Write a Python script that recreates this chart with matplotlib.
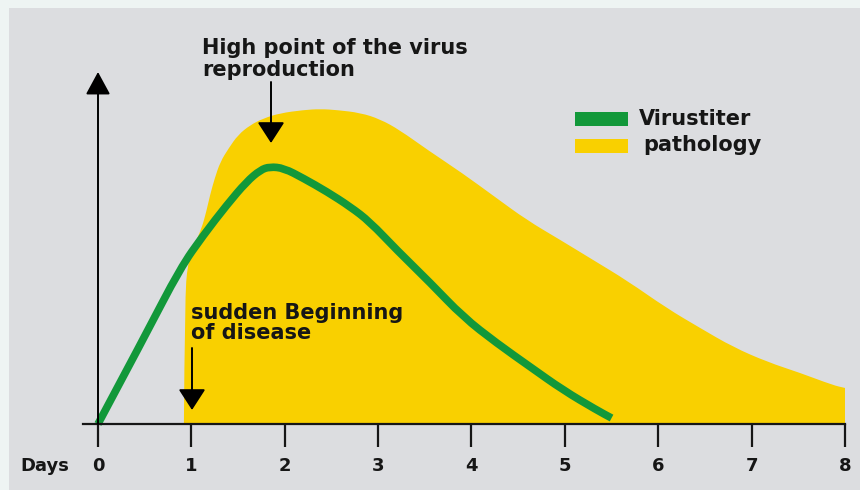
import matplotlib
matplotlib.use("Agg")
import matplotlib.pyplot as plt
from matplotlib.patches import Rectangle, PathPatch
from matplotlib.path import Path

# days on the x axis
days = [0, 1, 2, 3, 4, 5, 6, 7, 8]
day_labels = ["0", "1", "2", "3", "4", "5", "6", "7", "8"]

# virus titer (green line)
virus_x = [0.0, 0.5, 0.88, 1.13, 1.38, 1.59, 1.74, 1.84, 1.99, 2.2, 2.45,
           2.7, 2.91, 3.2, 3.56, 3.91, 4.27, 4.63, 4.98, 5.34, 5.5]
virus_y = [0.0, 25, 44.5, 54, 62.6, 69.2, 72.6, 73.5, 73.1, 70.2, 66.4,
           62.1, 57.8, 49.7, 40.3, 30.6, 23.1, 16.3, 9.7, 4.0, 1.7]

# pathology (yellow area)
path_x = [0.92, 0.93, 0.96, 1.03, 1.11, 1.16, 1.2, 1.25, 1.31, 1.4, 1.5,
          1.63, 1.77, 1.95, 2.2, 2.38, 2.56, 2.81, 3.02, 3.23, 3.53, 3.9,
          4.25, 4.59, 4.95, 5.3, 5.67, 6.09, 6.45, 6.8, 7.17, 7.52, 7.87, 8.0]
path_y = [0.0, 35.4, 46, 51.1, 55.9, 60.7, 65.4, 70.2, 74.9, 78.8, 82.6,
          85.4, 87.3, 88.8, 89.7, 90.0, 89.7, 88.9, 87.1, 84.0, 78.3, 71.7,
          64.9, 58.3, 52.6, 46.9, 40.9, 33.1, 27.4, 22, 17.7, 14.6, 11.1, 10.3]

GREEN = "#12983a"
YELLOW = "#f9d000"
GRAY = "#dcdde0"
INK = "#161616"
FONT = "DejaVu Sans"


def smooth_path(xs, ys, close_to_base=False):
    # quadratic bezier through midpoints: rounds the corners of the polyline
    pts = list(zip(xs, ys))
    verts = [pts[0]]
    codes = [Path.MOVETO]
    for i in range(1, len(pts) - 1):
        mid = ((pts[i][0] + pts[i + 1][0]) / 2, (pts[i][1] + pts[i + 1][1]) / 2)
        verts += [pts[i], mid]
        codes += [Path.CURVE3, Path.CURVE3]
    verts.append(pts[-1])
    codes.append(Path.LINETO)
    if close_to_base:
        verts += [(xs[-1], 0), (xs[0], 0), (xs[0], 0)]
        codes += [Path.LINETO, Path.LINETO, Path.CLOSEPOLY]
    return Path(verts, codes)


W, H = 860, 490
fig = plt.figure(figsize=(W / 100, H / 100), dpi=100)
fig.patch.set_facecolor("#eef4f3")

ax = fig.add_axes([0, 0, 1, 1])
ax.set_facecolor("none")
ax.axis("off")
ax.add_patch(Rectangle((9 / W, 0), 1, 1 - 8 / H, transform=fig.transFigure,
                       facecolor=GRAY, edgecolor="none", zorder=0))

# pixel -> data helpers (x: 0 at px 98, 8 at px 845; baseline at py 424)
sx = (845 - 98) / 8.0
sy = 3.5
def X(px):
    return (px - 98) / sx
def Y(py):
    return (424 - py) / sy

ax.set_xlim(X(0), X(W))
ax.set_ylim(Y(H), Y(0))

ax.add_patch(PathPatch(smooth_path(path_x, path_y, close_to_base=True),
                       facecolor=YELLOW, edgecolor="none", zorder=1))
ax.add_patch(PathPatch(smooth_path(virus_x, virus_y), facecolor="none",
                       edgecolor=GREEN, lw=5.5, capstyle="butt",
                       joinstyle="round", zorder=3))

# axes lines
ax.plot([X(83), 8], [0, 0], color=INK, lw=1.6, zorder=4)
ax.vlines(days, Y(447), 0, color=INK, lw=1.6, zorder=4)
ax.annotate("", xy=(0, Y(72)), xytext=(0, 0),
            arrowprops=dict(arrowstyle="-|>,head_length=0.7,head_width=0.38",
                            mutation_scale=20, lw=1.4, color="black",
                            shrinkA=0, shrinkB=0), zorder=5)

for d, lab in zip(days, day_labels):
    ax.text(d, Y(466), lab, ha="center", va="center", fontsize=13,
            fontweight="bold", family=FONT, color=INK)
ax.text(X(20), Y(466), "Days", ha="left", va="center", fontsize=13,
        fontweight="bold", family=FONT, color=INK)

# annotations
ax.text(X(202), Y(54), "High point of the virus", ha="left", va="baseline",
        fontsize=15, fontweight="bold", family=FONT, color=INK)
ax.text(X(202), Y(76), "reproduction", ha="left", va="baseline",
        fontsize=15, fontweight="bold", family=FONT, color=INK)
ax.annotate("", xy=(X(271), Y(143)), xytext=(X(271), Y(82)),
            arrowprops=dict(arrowstyle="-|>,head_length=0.65,head_width=0.42",
                            mutation_scale=20, lw=1.4, color="black",
                            shrinkA=0, shrinkB=0), zorder=5)

ax.text(X(191), Y(319), "sudden Beginning", ha="left", va="baseline",
        fontsize=15, fontweight="bold", family=FONT, color=INK, zorder=6)
ax.text(X(191), Y(339), "of disease", ha="left", va="baseline",
        fontsize=15, fontweight="bold", family=FONT, color=INK, zorder=6)
ax.annotate("", xy=(X(192), Y(410)), xytext=(X(192), Y(348)),
            arrowprops=dict(arrowstyle="-|>,head_length=0.65,head_width=0.42",
                            mutation_scale=20, lw=1.4, color="black",
                            shrinkA=0, shrinkB=0), zorder=5)

# legend
ax.add_patch(Rectangle((X(575), Y(126)), X(628) - X(575), Y(112) - Y(126),
                       facecolor=GREEN, edgecolor="none"))
ax.add_patch(Rectangle((X(575), Y(153)), X(628) - X(575), Y(139) - Y(153),
                       facecolor=YELLOW, edgecolor="none"))
ax.text(X(639), Y(125), "Virustiter", ha="left", va="baseline", fontsize=15,
        fontweight="bold", family=FONT, color=INK)
ax.text(X(643), Y(151), "pathology", ha="left", va="baseline", fontsize=15,
        fontweight="bold", family=FONT, color=INK)

fig.savefig("out.png", dpi=100, facecolor=fig.get_facecolor())
